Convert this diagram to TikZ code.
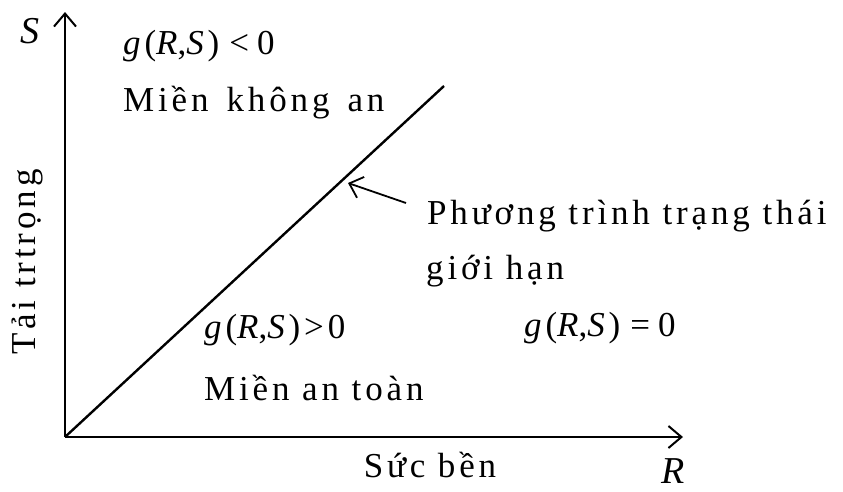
\documentclass[tikz,border=0pt]{standalone}
\usepackage{fontspec}
\setmainfont{Liberation Serif}
\newfontfamily\spaced[LetterSpace=11]{Liberation Serif}
\usetikzlibrary{arrows.meta}
\newcommand{\gi}{\textit{g}}
\begin{document}
\begin{tikzpicture}[x=1pt,y=-1pt,
  lbl/.style={font=\fontsize{35}{35}\selectfont\spaced,inner sep=0pt,anchor=west},
  axlbl/.style={font=\fontsize{38}{38}\selectfont\itshape,inner sep=0pt,anchor=base},
  axis/.style={line width=2pt,-{Straight Barb[length=13pt,width=22pt,line width=2pt]}},
  pointer/.style={line width=1.8pt,-{Straight Barb[length=12pt,width=22pt,line width=1.8pt]}}]
\useasboundingbox (0,0) rectangle (843,491);
\coordinate (O) at (65,437);
\coordinate (Ytop) at (65,12);
\coordinate (Xend) at (683,437);
\coordinate (Lend) at (444,86);
\coordinate (Ptail) at (406,203);
\coordinate (Phead) at (348,183);
\draw[axis] (O) -- (Ytop);
\draw[axis] (O) -- (Xend);
\draw[line width=2.4pt] (O) -- (Lend);
\draw[pointer] (Ptail) -- (Phead);
\node[axlbl] (S) at (30,43) {S};
\node[axlbl] (R) at (673,483) {R};
\node[lbl] (gneg) at (123,46) {\gi(\textit{R},\textit{S})\hspace{10pt}<\hspace{8pt}0};
\node[lbl] (unsafe) at (123,103) {Miền\hspace{18pt}không\hspace{18pt}an};
\node[lbl] (eq1) at (427,216) {Phương trình trạng thái};
\node[lbl] (eq2) at (426,271) {giới hạn};
\node[lbl] (gzero) at (524,328) {\gi(\textit{R},\textit{S})\hspace{10pt}=\hspace{8pt}0};
\node[lbl] (gpos) at (204,330) {\gi(\textit{R},\textit{S})>0};
\node[lbl] (safe) at (204,388) {Miền an toàn};
\node[lbl,anchor=center] (res) at (430,465) {Sức bền};
\node[lbl,anchor=center,rotate=90] (load) at (27,262) {Tải trtrọng};
\end{tikzpicture}
\end{document}
